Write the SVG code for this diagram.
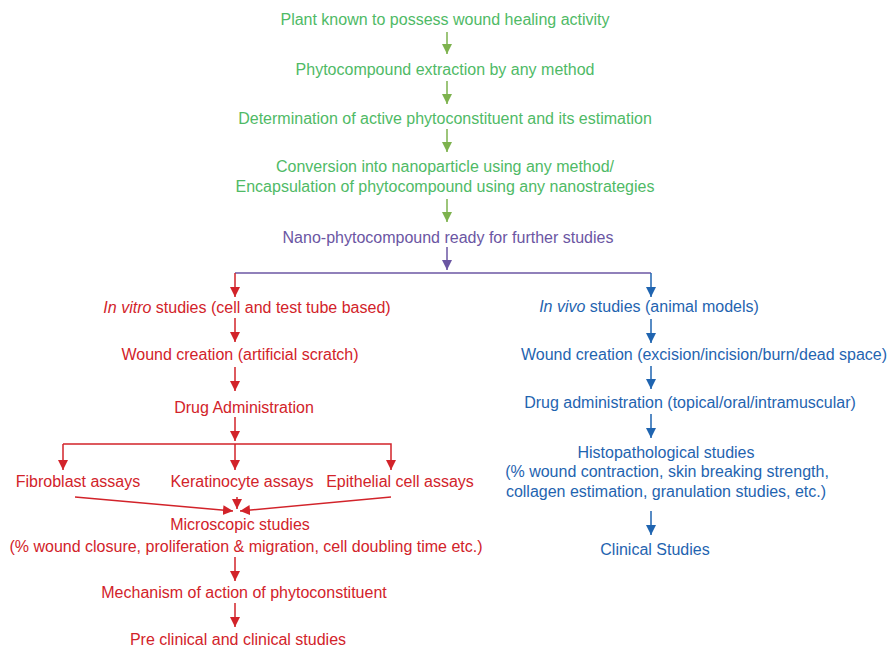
<svg xmlns="http://www.w3.org/2000/svg" width="889" height="648" viewBox="0 0 889 648">
<style>
text{font-family:"Liberation Sans",Arial,sans-serif;font-size:16px;text-anchor:middle}
.g{fill:#4fba66}.p{fill:#6b56a3}.r{fill:#d2232a}.b{fill:#1f64b0}
.lg{stroke:#7db24e;stroke-width:1.5;fill:none}
.lp{stroke:#6b56a3;stroke-width:1.5;fill:none}
.lr{stroke:#d2232a;stroke-width:1.5;fill:none}
.lb{stroke:#1f64b0;stroke-width:1.5;fill:none}
</style>
<defs>
<marker id="ag" markerUnits="userSpaceOnUse" markerWidth="12" markerHeight="12" refX="10" refY="5" orient="auto"><path d="M0,0L10,5L0,10z" fill="#7db24e"/></marker>
<marker id="ap" markerUnits="userSpaceOnUse" markerWidth="12" markerHeight="12" refX="10" refY="5" orient="auto"><path d="M0,0L10,5L0,10z" fill="#6b56a3"/></marker>
<marker id="ar" markerUnits="userSpaceOnUse" markerWidth="12" markerHeight="12" refX="10" refY="5" orient="auto"><path d="M0,0L10,5L0,10z" fill="#d2232a"/></marker>
<marker id="ab" markerUnits="userSpaceOnUse" markerWidth="12" markerHeight="12" refX="10" refY="5" orient="auto"><path d="M0,0L10,5L0,10z" fill="#1f64b0"/></marker>
</defs>
<g id="n1"><text class="g" x="445" y="25">Plant known to possess wound healing activity</text></g>
<g id="n2"><text class="g" x="445" y="75">Phytocompound extraction by any method</text></g>
<g id="n3"><text class="g" x="445" y="124">Determination of active phytoconstituent and its estimation</text></g>
<g id="n4"><text class="g" x="445" y="172">Conversion into nanoparticle using any method/</text><text class="g" x="445" y="192">Encapsulation of phytocompound using any nanostrategies</text></g>
<g id="n5"><text class="p" x="448" y="243">Nano-phytocompound ready for further studies</text></g>
<g id="v1"><text class="r" x="247" y="313"><tspan font-style="italic">In vitro</tspan> studies (cell and test tube based)</text></g>
<g id="v2"><text class="r" x="240" y="360">Wound creation (artificial scratch)</text></g>
<g id="v3"><text class="r" x="244" y="413">Drug Administration</text></g>
<g id="v4a"><text class="r" x="78" y="487">Fibroblast assays</text></g>
<g id="v4b"><text class="r" x="242" y="487">Keratinocyte assays</text></g>
<g id="v4c"><text class="r" x="400" y="487">Epithelial cell assays</text></g>
<g id="v5"><text class="r" x="240" y="530">Microscopic studies</text><text class="r" x="246" y="552">(% wound closure, proliferation &amp; migration, cell doubling time etc.)</text></g>
<g id="v6"><text class="r" x="244" y="598">Mechanism of action of phytoconstituent</text></g>
<g id="v7"><text class="r" x="238" y="645">Pre clinical and clinical studies</text></g>
<g id="w1"><text class="b" x="649" y="312"><tspan font-style="italic">In vivo</tspan> studies (animal models)</text></g>
<g id="w2"><text class="b" x="704" y="360">Wound creation (excision/incision/burn/dead space)</text></g>
<g id="w3"><text class="b" x="690" y="408">Drug administration (topical/oral/intramuscular)</text></g>
<g id="w4"><text class="b" x="666" y="458">Histopathological studies</text><text class="b" x="667" y="477">(% wound contraction, skin breaking strength,</text><text class="b" x="666" y="497">collagen estimation, granulation studies, etc.)</text></g>
<g id="w5"><text class="b" x="655" y="555">Clinical Studies</text></g>
<g id="connectors">
<path class="lg" d="M447,32V54" marker-end="url(#ag)"/>
<path class="lg" d="M447,81V104" marker-end="url(#ag)"/>
<path class="lg" d="M447,129V152" marker-end="url(#ag)"/>
<path class="lg" d="M447,199V222" marker-end="url(#ag)"/>
<path class="lp" d="M447,247V270" marker-end="url(#ap)"/>
<path class="lp" d="M235,273H651"/>
<path class="lr" d="M235,273V297" marker-end="url(#ar)"/>
<path class="lb" d="M651,273V297" marker-end="url(#ab)"/>
<path class="lr" d="M235,318V342" marker-end="url(#ar)"/>
<path class="lr" d="M235,367V391" marker-end="url(#ar)"/>
<path class="lr" d="M235,417V441" marker-end="url(#ar)"/>
<path class="lr" d="M63,444H391V470" marker-end="url(#ar)"/>
<path class="lr" d="M63,444V470" marker-end="url(#ar)"/>
<path class="lr" d="M235,444V470" marker-end="url(#ar)"/>
<path class="lr" d="M75,497L233,511" marker-end="url(#ar)"/>
<path class="lr" d="M237,497V509" marker-end="url(#ar)"/>
<path class="lr" d="M391,497L240,511" marker-end="url(#ar)"/>
<path class="lr" d="M235,557V581" marker-end="url(#ar)"/>
<path class="lr" d="M235,603V627" marker-end="url(#ar)"/>
<path class="lb" d="M651,319V343" marker-end="url(#ab)"/>
<path class="lb" d="M651,366V389" marker-end="url(#ab)"/>
<path class="lb" d="M651,414V438" marker-end="url(#ab)"/>
<path class="lb" d="M651,511V535" marker-end="url(#ab)"/>
</g>
</svg>
